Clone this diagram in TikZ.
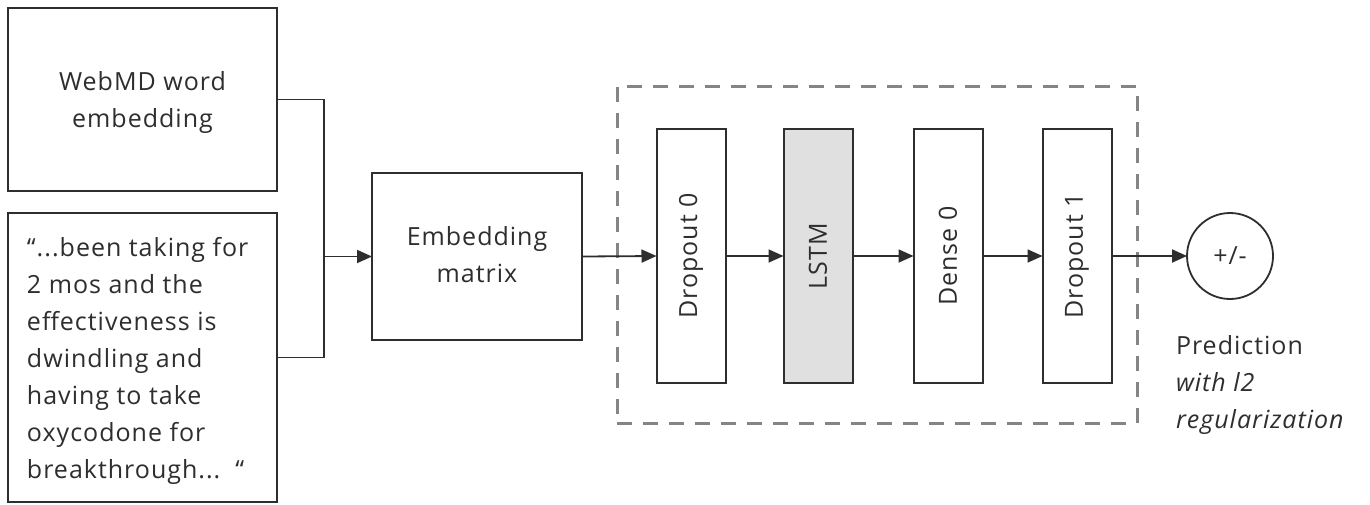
\documentclass[tikz,border=0pt]{standalone}
\usepackage{fontspec}
\usepackage{graphicx}
\setmainfont{Open Sans}[LetterSpace=4]
\usetikzlibrary{arrows.meta}
\definecolor{ink}{HTML}{2E2E2E}
\definecolor{framegray}{HTML}{858585}
\definecolor{lstmfill}{HTML}{E0E0E0}
\begin{document}
\begin{tikzpicture}[x=1pt,y=-1pt,
  box/.style={draw=ink, line width=2pt, fill=white, inner sep=0pt, outer sep=0pt},
  layer/.style={box, minimum width=69pt, minimum height=254pt},
  txt/.style={text=ink, font=\fontsize{25}{37}\selectfont, inner sep=0pt, outer sep=0pt},
  vtxt/.style={},
  conn/.style={draw=ink, line width=1.8pt},
  arr/.style={conn, -{Triangle[length=15pt,width=13pt]}},
  group/.style={draw=framegray, line width=3pt, dash pattern=on 15pt off 11pt,
                inner sep=0pt, minimum width=520pt, minimum height=337pt},
  ]
\useasboundingbox (0,0) rectangle (1370,504);

% dashed frame round the network layers
\node[group] (stack) at (877,254.5) {};

% input boxes
\node[box, minimum width=269pt, minimum height=183pt] (webmd) at (142.5,99.5) {};
\node[txt, align=center, anchor=north] (webmdtext) at (142.5,72) {WebMD word\\embedding};

\node[box, minimum width=269pt, minimum height=289pt] (quote) at (142.5,357.5) {};
\node[txt, align=left, anchor=north west] (quotetext) at (27,237)
  {“...been taking for\\2 mos and the\\effectiveness is\\dwindling and\\having to take\\oxycodone for\\breakthrough...\ \ “};

% embedding matrix
\node[box, minimum width=210pt, minimum height=167pt] (embed) at (477,256.5) {};
\node[txt, align=center, anchor=north] (embedtext) at (477,226) {Embedding\\matrix};

% network layers, labels set sideways
\newcommand\sidelabel[1]{\rotatebox{90}{\fontsize{25}{37}\selectfont\color{ink}#1}}
\node[layer] (drop0) at (691,256) {\sidelabel{Dropout 0}};
\node[layer, fill=lstmfill] (lstm) at (818,256) {\sidelabel{LSTM}};
\node[layer] (dense0) at (948,256) {\sidelabel{Dense 0}};
\node[layer] (drop1) at (1077,256) {\sidelabel{Dropout 1}};

% output
\node[circle, draw=ink, line width=1.8pt, minimum size=86pt, inner sep=0pt, txt] (out) at (1230,256) {+/-};
\node[txt, align=left, anchor=north west] (pred) at (1176,335)
  {Prediction\\\textit{with l2}\\\textit{regularization}};

% connectors
\coordinate (join) at (324,256.5);
\draw[conn] (webmd.east) -| (join) |- (quote.east);
\draw[arr] (join) -- (embed.west);
\draw[arr] (embed.east) -- (drop0.west);
\draw[arr] (drop0.east) -- (lstm.west);
\draw[arr] (lstm.east) -- (dense0.west);
\draw[arr] (dense0.east) -- (drop1.west);
\draw[arr] (drop1.east) -- (out.west);
\end{tikzpicture}
\end{document}
